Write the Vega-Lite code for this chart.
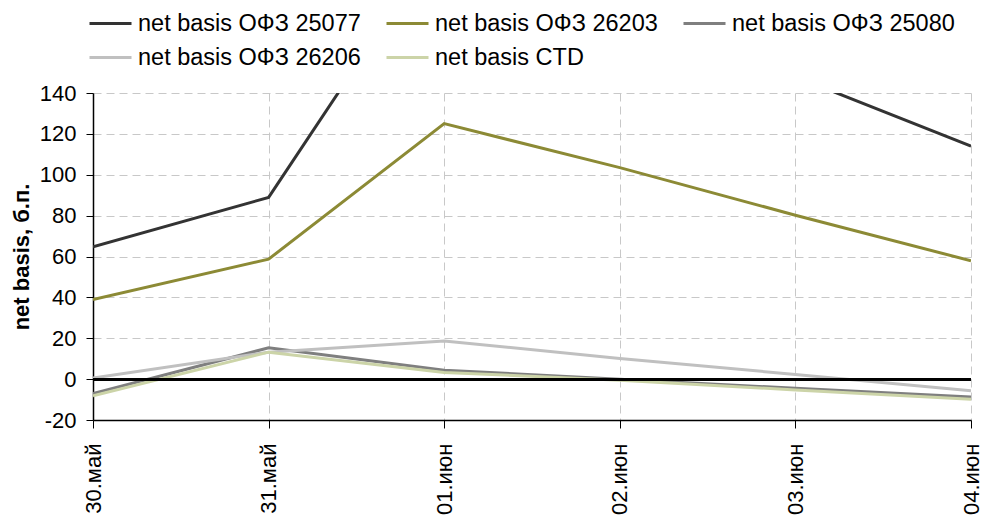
{
  "$schema": "https://vega.github.io/schema/vega-lite/v6.json",
  "width": 878,
  "height": 327,
  "autosize": "none",
  "padding": {"left": 93, "top": 93, "right": 11, "bottom": 95},
  "config": {"font": "Liberation Sans", "view": {"stroke": null}},
  "data": {
    "values": [
      {"date": "30.май", "series": "net basis ОФЗ 25077", "value": 64.7},
      {"date": "31.май", "series": "net basis ОФЗ 25077", "value": 88.9},
      {"date": "01.июн", "series": "net basis ОФЗ 25077", "value": 218},
      {"date": "02.июн", "series": "net basis ОФЗ 25077", "value": 185},
      {"date": "03.июн", "series": "net basis ОФЗ 25077", "value": 148},
      {"date": "04.июн", "series": "net basis ОФЗ 25077", "value": 114},
      {"date": "30.май", "series": "net basis ОФЗ 26203", "value": 39},
      {"date": "31.май", "series": "net basis ОФЗ 26203", "value": 58.7},
      {"date": "01.июн", "series": "net basis ОФЗ 26203", "value": 125},
      {"date": "02.июн", "series": "net basis ОФЗ 26203", "value": 103.5},
      {"date": "03.июн", "series": "net basis ОФЗ 26203", "value": 80.2},
      {"date": "04.июн", "series": "net basis ОФЗ 26203", "value": 57.9},
      {"date": "30.май", "series": "net basis ОФЗ 25080", "value": -7},
      {"date": "31.май", "series": "net basis ОФЗ 25080", "value": 15.3},
      {"date": "01.июн", "series": "net basis ОФЗ 25080", "value": 4.4},
      {"date": "02.июн", "series": "net basis ОФЗ 25080", "value": 0},
      {"date": "03.июн", "series": "net basis ОФЗ 25080", "value": -4.5},
      {"date": "04.июн", "series": "net basis ОФЗ 25080", "value": -8.7},
      {"date": "30.май", "series": "net basis ОФЗ 26206", "value": 0.6},
      {"date": "31.май", "series": "net basis ОФЗ 26206", "value": 13.2},
      {"date": "01.июн", "series": "net basis ОФЗ 26206", "value": 18.7},
      {"date": "02.июн", "series": "net basis ОФЗ 26206", "value": 10.1},
      {"date": "03.июн", "series": "net basis ОФЗ 26206", "value": 2.3},
      {"date": "04.июн", "series": "net basis ОФЗ 26206", "value": -5.7},
      {"date": "30.май", "series": "net basis CTD", "value": -8.2},
      {"date": "31.май", "series": "net basis CTD", "value": 13.2},
      {"date": "01.июн", "series": "net basis CTD", "value": 3.3},
      {"date": "02.июн", "series": "net basis CTD", "value": -0.5},
      {"date": "03.июн", "series": "net basis CTD", "value": -5.3},
      {"date": "04.июн", "series": "net basis CTD", "value": -9.8}
    ]
  },
  "layer": [
    {
      "mark": {"type": "line", "strokeWidth": 3, "clip": true},
      "encoding": {
        "x": {
          "field": "date",
          "type": "ordinal",
          "sort": ["30.май", "31.май", "01.июн", "02.июн", "03.июн", "04.июн"],
          "scale": {"type": "point", "padding": 0},
          "axis": {
            "title": null,
            "labelAngle": 270,
            "labelFontSize": 22,
            "labelColor": "black",
            "tickColor": "black",
            "tickSize": 8,
            "labelPadding": 15,
            "domainColor": "black",
            "domainWidth": 1.5,
            "grid": true,
            "gridDash": [8, 5],
            "gridColor": "#c8c8c8",
            "gridWidth": 1
          }
        },
        "y": {
          "field": "value",
          "type": "quantitative",
          "scale": {"domain": [-20, 140], "nice": false},
          "axis": {
            "title": "net basis, б.п.",
            "titleFontSize": 22,
            "titleFontWeight": "bold",
            "titleColor": "black",
            "titlePadding": 6,
            "values": [-20, 0, 20, 40, 60, 80, 100, 120, 140],
            "labelExpr": "'' + datum.value",
            "labelFontSize": 22,
            "labelColor": "black",
            "tickColor": "black",
            "tickSize": 7,
            "labelPadding": 10,
            "domainColor": "black",
            "domainWidth": 1.5,
            "grid": true,
            "gridDash": [8, 5],
            "gridColor": "#c8c8c8",
            "gridWidth": 1
          }
        },
        "color": {
          "field": "series",
          "type": "nominal",
          "scale": {
            "domain": ["net basis ОФЗ 25077", "net basis ОФЗ 26203", "net basis ОФЗ 25080", "net basis ОФЗ 26206", "net basis CTD"],
            "range": ["#333333", "#8c8a35", "#7f7f7f", "#c0c0c0", "#ccd4a8"]
          },
          "legend": {
            "title": null,
            "orient": "none",
            "legendX": -5,
            "legendY": -92,
            "direction": "horizontal",
            "columns": 3,
            "symbolType": "stroke",
            "symbolSize": 1764,
            "symbolStrokeWidth": 3,
            "labelFontSize": 23.5,
            "labelColor": "black",
            "labelOffset": 5,
            "labelLimit": 400,
            "columnPadding": 19,
            "rowPadding": -7
          }
        }
      }
    },
    {
      "mark": {"type": "rule", "color": "black", "strokeWidth": 2},
      "encoding": {"y": {"datum": 0}}
    }
  ]
}
